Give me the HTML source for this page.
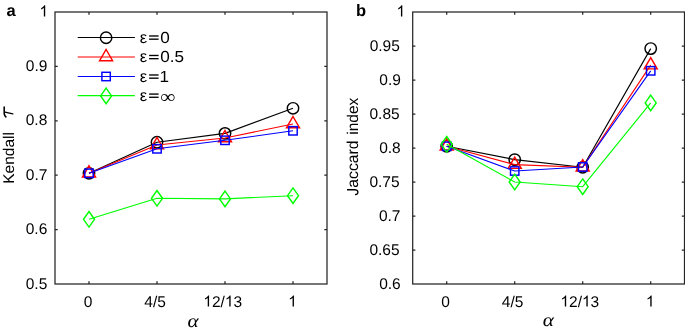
<!DOCTYPE html>
<html><head><meta charset="utf-8"><style>
html,body{margin:0;padding:0;background:#fff;width:685px;height:328px;overflow:hidden}
svg{display:block;will-change:transform}
text{font-kerning:none;text-rendering:geometricPrecision}
.t{font-family:"Liberation Sans",sans-serif;font-size:15.5px;fill:#000}
.sr{font-family:"Liberation Serif",serif;fill:#000}
.al{font-family:"Liberation Serif",serif;font-style:italic;font-size:19px;fill:#000}
.pl{font-family:"Liberation Sans",sans-serif;font-weight:bold;font-size:16.5px;fill:#000}
</style></head><body>
<svg width="685" height="328" viewBox="0 0 685 328">
<rect x="55" y="12" width="272" height="272" fill="none" stroke="#262626" stroke-width="1.25"/><path d="M89 284V281.3M89 12V14.7M157 284V281.3M157 12V14.7M225 284V281.3M225 12V14.7M293 284V281.3M293 12V14.7M55 66.4H57.7M327 66.4H324.3M55 120.8H57.7M327 120.8H324.3M55 175.2H57.7M327 175.2H324.3M55 229.6H57.7M327 229.6H324.3" stroke="#262626" stroke-width="1.25" fill="none"/><polyline points="89,173.3 157,142.2 225,133.4 293,108.3" fill="none" stroke="#000000" stroke-width="1.15" stroke-linejoin="round"/><circle cx="89" cy="173.3" r="5.7" fill="none" stroke="#000000" stroke-width="1.45"/><circle cx="157" cy="142.2" r="5.7" fill="none" stroke="#000000" stroke-width="1.45"/><circle cx="225" cy="133.4" r="5.7" fill="none" stroke="#000000" stroke-width="1.45"/><circle cx="293" cy="108.3" r="5.7" fill="none" stroke="#000000" stroke-width="1.45"/><polyline points="89,173.3 157,145 225,138 293,124" fill="none" stroke="#ff0000" stroke-width="1.15" stroke-linejoin="round"/><polygon points="89,165.8 95.5,177.05 82.5,177.05" fill="none" stroke="#ff0000" stroke-width="1.45"/><polygon points="157,137.5 163.5,148.75 150.5,148.75" fill="none" stroke="#ff0000" stroke-width="1.45"/><polygon points="225,130.5 231.5,141.75 218.5,141.75" fill="none" stroke="#ff0000" stroke-width="1.45"/><polygon points="293,116.5 299.5,127.75 286.5,127.75" fill="none" stroke="#ff0000" stroke-width="1.45"/><polyline points="89,173.3 157,148.8 225,140.3 293,130.8" fill="none" stroke="#0000ff" stroke-width="1.15" stroke-linejoin="round"/><rect x="84.8" y="169.1" width="8.4" height="8.4" fill="none" stroke="#0000ff" stroke-width="1.45"/><rect x="152.8" y="144.6" width="8.4" height="8.4" fill="none" stroke="#0000ff" stroke-width="1.45"/><rect x="220.8" y="136.1" width="8.4" height="8.4" fill="none" stroke="#0000ff" stroke-width="1.45"/><rect x="288.8" y="126.6" width="8.4" height="8.4" fill="none" stroke="#0000ff" stroke-width="1.45"/><polyline points="89,219.3 157,198.3 225,198.9 293,195.7" fill="none" stroke="#00ff00" stroke-width="1.15" stroke-linejoin="round"/><polygon points="89,211.5 94.5,219.3 89,227.1 83.5,219.3" fill="none" stroke="#00ff00" stroke-width="1.45"/><polygon points="157,190.5 162.5,198.3 157,206.1 151.5,198.3" fill="none" stroke="#00ff00" stroke-width="1.45"/><polygon points="225,191.1 230.5,198.9 225,206.7 219.5,198.9" fill="none" stroke="#00ff00" stroke-width="1.45"/><polygon points="293,187.9 298.5,195.7 293,203.5 287.5,195.7" fill="none" stroke="#00ff00" stroke-width="1.45"/><rect x="412.7" y="12" width="271.8" height="272" fill="none" stroke="#262626" stroke-width="1.25"/><path d="M446.7 284V281.3M446.7 12V14.7M514.7 284V281.3M514.7 12V14.7M582.7 284V281.3M582.7 12V14.7M650.7 284V281.3M650.7 12V14.7M412.7 46H415.4M684.5 46H681.8M412.7 80H415.4M684.5 80H681.8M412.7 114H415.4M684.5 114H681.8M412.7 148H415.4M684.5 148H681.8M412.7 182H415.4M684.5 182H681.8M412.7 216H415.4M684.5 216H681.8M412.7 250H415.4M684.5 250H681.8" stroke="#262626" stroke-width="1.25" fill="none"/><polyline points="446.7,146.3 514.7,159.6 582.7,167.3 650.7,48.6" fill="none" stroke="#000000" stroke-width="1.15" stroke-linejoin="round"/><circle cx="446.7" cy="146.3" r="5.7" fill="none" stroke="#000000" stroke-width="1.45"/><circle cx="514.7" cy="159.6" r="5.7" fill="none" stroke="#000000" stroke-width="1.45"/><circle cx="582.7" cy="167.3" r="5.7" fill="none" stroke="#000000" stroke-width="1.45"/><circle cx="650.7" cy="48.6" r="5.7" fill="none" stroke="#000000" stroke-width="1.45"/><polyline points="446.7,146.3 514.7,164.6 582.7,167.2 650.7,65.1" fill="none" stroke="#ff0000" stroke-width="1.15" stroke-linejoin="round"/><polygon points="446.7,138.8 453.2,150.05 440.2,150.05" fill="none" stroke="#ff0000" stroke-width="1.45"/><polygon points="514.7,157.1 521.2,168.35 508.2,168.35" fill="none" stroke="#ff0000" stroke-width="1.45"/><polygon points="582.7,159.7 589.2,170.95 576.2,170.95" fill="none" stroke="#ff0000" stroke-width="1.45"/><polygon points="650.7,57.6 657.2,68.85 644.2,68.85" fill="none" stroke="#ff0000" stroke-width="1.45"/><polyline points="446.7,146.3 514.7,171 582.7,167 650.7,70.8" fill="none" stroke="#0000ff" stroke-width="1.15" stroke-linejoin="round"/><rect x="442.5" y="142.1" width="8.4" height="8.4" fill="none" stroke="#0000ff" stroke-width="1.45"/><rect x="510.5" y="166.8" width="8.4" height="8.4" fill="none" stroke="#0000ff" stroke-width="1.45"/><rect x="578.5" y="162.8" width="8.4" height="8.4" fill="none" stroke="#0000ff" stroke-width="1.45"/><rect x="646.5" y="66.6" width="8.4" height="8.4" fill="none" stroke="#0000ff" stroke-width="1.45"/><polyline points="446.7,144.3 514.7,182 582.7,186.7 650.7,102.9" fill="none" stroke="#00ff00" stroke-width="1.15" stroke-linejoin="round"/><polygon points="446.7,136.5 452.2,144.3 446.7,152.1 441.2,144.3" fill="none" stroke="#00ff00" stroke-width="1.45"/><polygon points="514.7,174.2 520.2,182 514.7,189.8 509.2,182" fill="none" stroke="#00ff00" stroke-width="1.45"/><polygon points="582.7,178.9 588.2,186.7 582.7,194.5 577.2,186.7" fill="none" stroke="#00ff00" stroke-width="1.45"/><polygon points="650.7,95.1 656.2,102.9 650.7,110.7 645.2,102.9" fill="none" stroke="#00ff00" stroke-width="1.45"/><line x1="77.7" y1="37.5" x2="134.9" y2="37.5" stroke="#000000" stroke-width="1.15"/><circle cx="106.1" cy="37.7" r="5.7" fill="none" stroke="#000000" stroke-width="1.45"/><text x="0" y="0" class="t" transform="translate(139.7 42.8) scale(1.07 1.06)">ε</text><rect x="149.1" y="35.3" width="9.5" height="1.35" fill="#000"/><rect x="149.1" y="38.5" width="9.5" height="1.35" fill="#000"/><g transform="translate(160.8 0) scale(1.07 1) translate(-160.8 0)"><text x="160.18" y="42.8" class="t" style="font-size:16px">0</text></g><line x1="77.7" y1="57" x2="134.9" y2="57" stroke="#ff0000" stroke-width="1.15"/><polygon points="106.1,49.5 112.6,60.75 99.6,60.75" fill="none" stroke="#ff0000" stroke-width="1.45"/><text x="0" y="0" class="t" transform="translate(139.7 62.3) scale(1.07 1.06)">ε</text><rect x="149.1" y="54.8" width="9.5" height="1.35" fill="#000"/><rect x="149.1" y="58" width="9.5" height="1.35" fill="#000"/><g transform="translate(160.8 0) scale(1.07 1) translate(-160.8 0)"><text x="160.18 169.07 173.52" y="62.3" class="t" style="font-size:16px">0.5</text></g><line x1="77.7" y1="76.5" x2="134.9" y2="76.5" stroke="#0000ff" stroke-width="1.15"/><rect x="101.9" y="72.3" width="8.4" height="8.4" fill="none" stroke="#0000ff" stroke-width="1.45"/><text x="0" y="0" class="t" transform="translate(139.7 81.8) scale(1.07 1.06)">ε</text><rect x="149.1" y="74.3" width="9.5" height="1.35" fill="#000"/><rect x="149.1" y="77.5" width="9.5" height="1.35" fill="#000"/><g transform="translate(160.8 0) scale(1.07 1) translate(-160.8 0)"><text x="159.58" y="81.8" class="t" style="font-size:16px">1</text></g><line x1="77.7" y1="95.6" x2="134.9" y2="95.6" stroke="#00ff00" stroke-width="1.15"/><polygon points="106.1,88.1 111.6,95.9 106.1,103.7 100.6,95.9" fill="none" stroke="#00ff00" stroke-width="1.45"/><text x="0" y="0" class="t" transform="translate(139.7 100.9) scale(1.07 1.06)">ε</text><rect x="149.1" y="93.4" width="9.5" height="1.35" fill="#000"/><rect x="149.1" y="96.6" width="9.5" height="1.35" fill="#000"/><text x="0" y="0" class="sr" style="font-size:19px" transform="translate(160.3 102.9) scale(1.12 1)">∞</text>
<path d="M763 0L583 0L583 1147Q518 1085 412.5 1023Q307 961 223 930L223 1104Q374 1175 486.5 1276Q599 1377 646 1472L763 1472Z" transform="translate(39.43 16.5) scale(0.007568 -0.007568)" fill="#000"/><text x="25.79 34.41 38.71" y="70.9" class="t" style="font-size:15.5px">0.9</text><text x="25.73 34.35 38.65" y="125.3" class="t" style="font-size:15.5px">0.8</text><text x="25.83 34.45 38.76" y="179.7" class="t" style="font-size:15.5px">0.7</text><text x="25.73 34.35 38.66" y="234.1" class="t" style="font-size:15.5px">0.6</text><text x="25.7 34.32 38.63" y="288.5" class="t" style="font-size:15.5px">0.5</text><text x="83.79" y="306.6" class="t" style="font-size:15.5px">0</text><text x="144.37 152.99 157.3" y="306.6" class="t" style="font-size:15.5px">4/5</text><path d="M763 0L583 0L583 1147Q518 1085 412.5 1023Q307 961 223 930L223 1104Q374 1175 486.5 1276Q599 1377 646 1472L763 1472Z" transform="translate(203.3 306.6) scale(0.007568 -0.007568)" fill="#000"/><path d="M763 0L583 0L583 1147Q518 1085 412.5 1023Q307 961 223 930L223 1104Q374 1175 486.5 1276Q599 1377 646 1472L763 1472Z" transform="translate(224.85 306.6) scale(0.007568 -0.007568)" fill="#000"/><text x="211.92 220.54 233.47" y="306.6" class="t" style="font-size:15.5px">2/3</text><path d="M763 0L583 0L583 1147Q518 1085 412.5 1023Q307 961 223 930L223 1104Q374 1175 486.5 1276Q599 1377 646 1472L763 1472Z" transform="translate(288.17 306.6) scale(0.007568 -0.007568)" fill="#000"/><path d="M763 0L583 0L583 1147Q518 1085 412.5 1023Q307 961 223 930L223 1104Q374 1175 486.5 1276Q599 1377 646 1472L763 1472Z" transform="translate(396.53 16.5) scale(0.007568 -0.007568)" fill="#000"/><text x="369.68 378.3 382.61 391.23" y="50.5" class="t" style="font-size:15.5px">0.95</text><text x="379.29 387.91 392.21" y="84.5" class="t" style="font-size:15.5px">0.9</text><text x="369.48 378.1 382.41 391.03" y="118.5" class="t" style="font-size:15.5px">0.85</text><text x="379.13 387.75 392.05" y="152.5" class="t" style="font-size:15.5px">0.8</text><text x="369.38 378 382.31 390.93" y="186.5" class="t" style="font-size:15.5px">0.75</text><text x="378.93 387.55 391.86" y="220.5" class="t" style="font-size:15.5px">0.7</text><text x="369.38 378 382.31 390.93" y="254.5" class="t" style="font-size:15.5px">0.65</text><text x="379.13 387.75 392.06" y="288.5" class="t" style="font-size:15.5px">0.6</text><text x="441.19" y="306.6" class="t" style="font-size:15.5px">0</text><text x="501.87 510.49 514.8" y="306.6" class="t" style="font-size:15.5px">4/5</text><path d="M763 0L583 0L583 1147Q518 1085 412.5 1023Q307 961 223 930L223 1104Q374 1175 486.5 1276Q599 1377 646 1472L763 1472Z" transform="translate(560.4 306.6) scale(0.007568 -0.007568)" fill="#000"/><path d="M763 0L583 0L583 1147Q518 1085 412.5 1023Q307 961 223 930L223 1104Q374 1175 486.5 1276Q599 1377 646 1472L763 1472Z" transform="translate(581.95 306.6) scale(0.007568 -0.007568)" fill="#000"/><text x="569.02 577.64 590.57" y="306.6" class="t" style="font-size:15.5px">2/3</text><path d="M763 0L583 0L583 1147Q518 1085 412.5 1023Q307 961 223 930L223 1104Q374 1175 486.5 1276Q599 1377 646 1472L763 1472Z" transform="translate(645.87 306.6) scale(0.007568 -0.007568)" fill="#000"/><text x="0" y="0" text-anchor="middle" class="al" transform="translate(193.2 327.4) scale(1.12 0.98)">α</text><text x="0" y="0" text-anchor="middle" class="al" transform="translate(548.35 325.7) scale(1.12 0.98)">α</text><g transform="translate(14.4 183.8) rotate(-90)"><text x="0 10.34 18.96 27.58 36.2 44.82 48.26" y="0" class="t" style="font-size:15.5px">Kendall</text></g><path d="M6.4 117.4Q4.3 115.7 4.2 113.6L4.2 106.5" stroke="#000" stroke-width="1.55" fill="none"/><path d="M5 112.2L12.8 113.9" stroke="#000" stroke-width="1.3" fill="none" stroke-linecap="round"/><g transform="translate(358.3 195.3) rotate(-90)"><path d="M37 416L212 440Q219 272 275 210Q331 148 430 148Q503 148 556 181Q609 214 629 271Q649 328 649 453L649 1466L843 1466L843 465Q843 280 798 178Q753 76 656 23Q559 -30 429 -30Q236 -30 134 81Q32 192 37 416Z" transform="translate(-0.25 0) scale(0.007690 -0.007690)" fill="#000"/><text x="7.63 16.39 24.26 32.14 40.9 46.14" y="0" class="t" style="font-size:15.75px">accard</text></g><g transform="translate(358.3 133.7) rotate(-90)"><text x="-1.04 2.41 11.03 19.65 28.27" y="0" class="t" style="font-size:15.5px">index</text></g><text x="6.5" y="16" class="pl">a</text><text x="356" y="16" class="pl">b</text>
</svg>
</body></html>
